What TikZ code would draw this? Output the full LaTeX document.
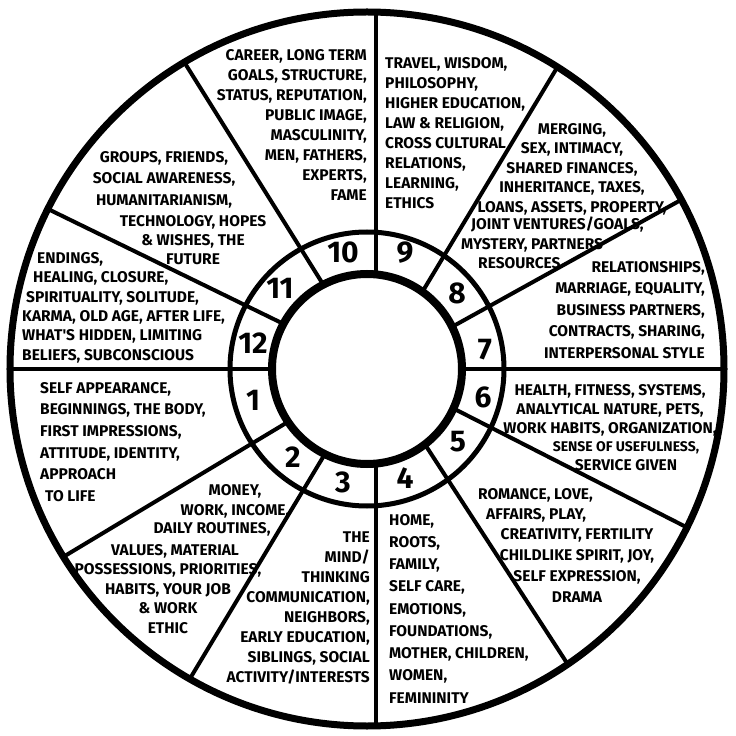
\documentclass[tikz,border=0pt]{standalone}
\usepackage{fontspec}
\usepackage{tikz}
\newfontfamily\housefont{Fira Sans}
\tikzset{
  lifearea/.style={font=\housefont\bfseries\fontsize{15.5}{#1}\selectfont, inner sep=0pt},
  lifearea/.default=20,
  housenum/.style={font=\housefont\bfseries\fontsize{30}{30}\selectfont, inner sep=0pt},
  divider/.style={line width=4pt},
}
\begin{document}
\begin{tikzpicture}[x=1pt,y=1pt]
\useasboundingbox (-367,-367) rectangle (369,369);
\coordinate (hub) at (9,0);
\begin{scope}
\clip (0,0) circle (357);
\foreach \a in {0,29,59,90,122,154,180,211,239,270,303,333}
  \draw[divider] (hub) -- ++(\a:420);
\end{scope}
\fill[white] (0,0) circle (95);
\draw[line width=5pt] (0,0) circle (137);
\draw[line width=8pt] (0,0) circle (95);
\draw[line width=7pt] (0,0) circle (357);

\foreach \n/\x/\y in {10/-24/117, 9/38/116, 8/90/76, 7/118/19, 6/116/-28, 5/91/-73,
  4/38/-109, 3/-24/-113, 2/-74/-88, 1/-114/-31, 12/-114/26, 11/-87/81}
  \node[housenum] (h\n) at (\x,\y) {\n};

\node[lifearea, anchor=north east, align=right] (career) at (0,320)
  {CAREER, LONG TERM\\GOALS, STRUCTURE,\\STATUS, REPUTATION,\\PUBLIC IMAGE,\\MASCULINITY,\\MEN, FATHERS,\\EXPERTS,\\FAME};
\node[lifearea, anchor=north west, align=left] (travel) at (18,312)
  {TRAVEL, WISDOM,\\PHILOSOPHY,\\HIGHER EDUCATION,\\LAW \& RELIGION,\\CROSS CULTURAL\\RELATIONS,\\LEARNING,\\ETHICS};
\node[lifearea=19.5, anchor=north, align=center] (merging) at (205,246)
  {MERGING,\\SEX, INTIMACY,\\SHARED FINANCES,\\INHERITANCE, TAXES,\\LOANS, ASSETS, PROPERTY,};
\node[lifearea=19.5, anchor=north west, align=left] (mystery) at (94,152)
  {\hspace*{10pt}JOINT VENTURES/GOALS,\\MYSTERY, PARTNERS\\\hspace*{17pt}RESOURCES};
\node[lifearea=21.5, anchor=north east, align=right] (relations) at (338,108)
  {RELATIONSHIPS,\\MARRIAGE, EQUALITY,\\BUSINESS PARTNERS,\\CONTRACTS, SHARING,\\INTERPERSONAL STYLE};
\node[lifearea=19, anchor=north, align=center] (health) at (243,-15)
  {HEALTH, FITNESS, SYSTEMS,\\ANALYTICAL NATURE, PETS,\\WORK HABITS, ORGANIZATION,};
\node[lifearea=19, anchor=north, align=center] (service) at (259,-72)
  {{\fontsize{14}{19}\selectfont SENSE OF USEFULNESS,}\\SERVICE GIVEN};
\node[lifearea, anchor=north west, align=left] (romance) at (111,-119)
  {ROMANCE, LOVE,\\\hspace*{8pt}AFFAIRS, PLAY,};
\node[lifearea=21, anchor=north, align=center] (creativity) at (210,-159)
  {CREATIVITY, FERTILITY\\CHILDLIKE SPIRIT, JOY,\\SELF EXPRESSION,\\DRAMA};
\node[lifearea=22.25, anchor=north west, align=left] (home) at (22,-145)
  {HOME,\\ROOTS,\\FAMILY,\\SELF CARE,\\EMOTIONS,\\FOUNDATIONS,\\MOTHER, CHILDREN,\\WOMEN,\\FEMININITY};
\node[lifearea=19.9, anchor=north east, align=right] (mind) at (3,-163)
  {THE\\MIND/\\THINKING\\COMMUNICATION,\\NEIGHBORS,\\EARLY EDUCATION,\\SIBLINGS, SOCIAL\\ACTIVITY/INTERESTS};
\node[lifearea, anchor=north, align=center] (money) at (-132,-115)
  {MONEY,\\WORK, INCOME,};
\node[lifearea, anchor=north] (routines) at (-155,-153) {DAILY ROUTINES,};
\node[lifearea=19.5, anchor=north, align=center] (values) at (-199,-175)
  {\hspace*{14pt}VALUES, MATERIAL\\POSSESSIONS, PRIORITIES,\\HABITS, YOUR JOB\\\& WORK\\ETHIC};
\node[lifearea=21.6, anchor=north west, align=left] (self) at (-327,-13)
  {SELF APPEARANCE,\\BEGINNINGS, THE BODY,\\FIRST IMPRESSIONS,\\ATTITUDE, IDENTITY,\\APPROACH\\\hspace*{5pt}TO LIFE};
\node[lifearea=19.4, anchor=north west, align=left] (endings) at (-345,117)
  {\hspace*{15pt}ENDINGS,\\\hspace*{11pt}HEALING, CLOSURE,\\\hspace*{4pt}SPIRITUALITY, SOLITUDE,\\KARMA, OLD AGE, AFTER LIFE,\\WHAT'S HIDDEN, LIMITING\\BELIEFS, SUBCONSCIOUS};
\node[lifearea=21.5, anchor=north, align=center] (groups) at (-203,218)
  {GROUPS, FRIENDS,\\SOCIAL AWARENESS,\\HUMANITARIANISM,};
\node[lifearea=19, anchor=north, align=center] (hopes) at (-174,154)
  {TECHNOLOGY, HOPES\\\& WISHES, THE\\FUTURE};
\end{tikzpicture}
\end{document}
